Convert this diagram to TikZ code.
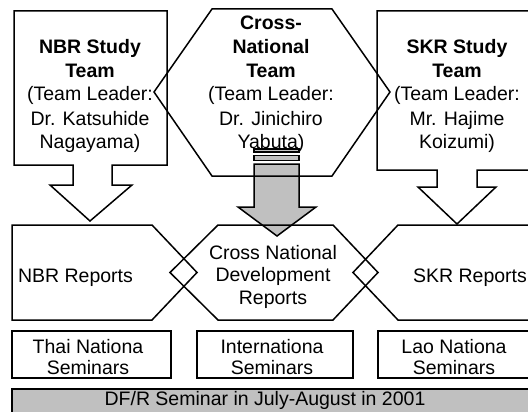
\documentclass[tikz,border=0pt]{standalone}
\usepackage{fontspec}
\setmainfont{Liberation Sans}
\definecolor{lgray}{RGB}{192,192,192}
\begin{document}
\begin{tikzpicture}[x=1pt,y=-1pt,line width=1.5pt,line join=miter,
  outl/.style={draw=black},
  txt/.style={font=\fontsize{19.5}{24}\selectfont,align=center,inner sep=0pt,anchor=base},
  txtr/.style={font=\fontsize{19.5}{22.5}\selectfont,align=center,inner sep=0pt,anchor=base},
  txts/.style={font=\fontsize{19.5}{21}\selectfont,align=center,inner sep=0pt,anchor=base}]
\useasboundingbox (0,0) rectangle (528,412);
\clip (0,0) rectangle (528,412);
% gray striped arrow (behind)
\filldraw[outl,fill=lgray] (254,149) rectangle (299,152);
\filldraw[outl,fill=lgray] (254,155.5) rectangle (299,160.5);
\filldraw[outl,fill=lgray] (254,164) -- (299,164) -- (299,207) -- (316,207) -- (277,236) -- (238,207) -- (254,207) -- cycle;
% top callouts
\draw[outl] (14,11) -- (167,11) -- (167,165) -- (112,165) -- (112,185) -- (132,185) -- (90,221) -- (50,185) -- (73,185) -- (73,165) -- (14,165) -- cycle;
\draw[outl] (377,11) -- (537,11) -- (537,170) -- (477,170) -- (477,187) -- (496,187) -- (457,224) -- (418,187) -- (437,187) -- (437,170) -- (377,170) -- cycle;
\draw[outl] (212,9) -- (332,9) -- (390,92) -- (332,176) -- (212,176) -- (154,92) -- cycle;
% reports
\draw[outl] (12,225) -- (152,225) -- (197,272.5) -- (152,320) -- (12,320) -- cycle;
\draw[outl] (170,272.5) -- (218,225) -- (333,225) -- (378,272.5) -- (333,320) -- (218,320) -- cycle;
\draw[outl] (353,272.5) -- (398,225) -- (540,225) -- (540,320) -- (398,320) -- cycle;
% seminars
\draw[outl] (12,331) rectangle (171,378);
\draw[outl] (197,331) rectangle (353,378);
\draw[outl] (378,331) rectangle (540,378);
\filldraw[outl,fill=lgray] (12,389) rectangle (540,420);
% texts
\node[txt] (nbr) at (90,149) {\textbf{NBR Study}\\\textbf{Team}\\(Team Leader:\\Dr. Katsuhide\\Nagayama)};
\node[txt] (cross) at (271,149) {\textbf{Cross-}\\\textbf{National}\\\textbf{Team}\\(Team Leader:\\Dr. Jinichiro\\Yabuta)};
\node[txt] (skr) at (457,149) {\textbf{SKR Study}\\\textbf{Team}\\(Team Leader:\\Mr. Hajime\\Koizumi)};
\node[txt] (nbrrep) at (75.5,282) {NBR Reports};
\node[txtr] (crossrep) at (273,304) {Cross National\\Development\\Reports};
\node[txt] (skrrep) at (470,282) {SKR Reports};
\node[txts] (thai) at (88,374) {Thai Nationa\\Seminars};
\node[txts] (intl) at (272,374) {Internationa\\Seminars};
\node[txts] (lao) at (454,374) {Lao Nationa\\Seminars};
\node[txt] (dfr) at (265,405) {DF/R Seminar in July-August in 2001};
\end{tikzpicture}
\end{document}
